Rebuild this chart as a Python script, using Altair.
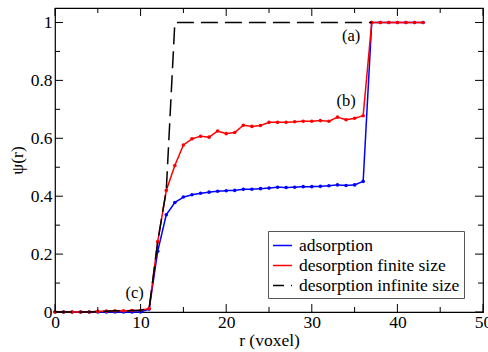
import altair as alt
import pandas as pd

# ---- data ----
r_ads = list(range(0, 44))
psi_ads = [0, 0, 0, 0, 0, 0, 0, 0, 0, 0, 0, 0.01,
           0.21, 0.336, 0.378, 0.397, 0.405, 0.41, 0.414, 0.417, 0.419, 0.42,
           0.424, 0.424, 0.426, 0.428, 0.431, 0.43, 0.431, 0.433, 0.433, 0.434,
           0.436, 0.439, 0.437, 0.439, 0.451,
           1.0, 1.0, 1.0, 1.0, 1.0, 1.0, 1.0]

r_des = list(range(0, 44))
psi_des = [0, 0, 0, 0, 0, 0.002, 0.003, 0.004, 0.004, 0.005, 0.006, 0.012,
           0.243, 0.42, 0.506, 0.577, 0.598, 0.607, 0.604, 0.625, 0.616, 0.62,
           0.645, 0.641, 0.644, 0.655, 0.655, 0.655, 0.657, 0.659, 0.659, 0.661,
           0.659, 0.673, 0.664, 0.669, 0.678,
           1.0, 1.0, 1.0, 1.0, 1.0, 1.0, 1.0]

r_inf = list(range(0, 38))
psi_inf = [0, 0, 0, 0, 0, 0.002, 0.003, 0.004, 0.004, 0.005, 0.006, 0.012,
           0.243, 0.42] + [1.0] * 24

series_names = ["adsorption", "desorption finite size", "desorption infinite size"]
series_colors = ["#0000ff", "#ff0000", "#000000"]

x_major = [0, 10, 20, 30, 40, 50]
x_minor = [5, 15, 25, 35, 45]
y_major = [0, 0.2, 0.4, 0.6, 0.8, 1.0]
y_minor = [0.1, 0.3, 0.5, 0.7, 0.9]

ann_text = ["(a)", "(b)", "(c)"]
ann_r = [34.6, 34.0, 9.3]
ann_psi = [0.952, 0.728, 0.066]

# ---- layout ----
W, H = 428, 304
FONT = "Liberation Serif"
FS = 17.5

df = pd.concat([
    pd.DataFrame({"r": r_ads, "psi": psi_ads, "series": series_names[0]}),
    pd.DataFrame({"r": r_des, "psi": psi_des, "series": series_names[1]}),
    pd.DataFrame({"r": r_inf, "psi": psi_inf, "series": series_names[2]}),
], ignore_index=True)

xscale = alt.Scale(domain=[0, 50], nice=False, zero=False)
yscale = alt.Scale(domain=[0, 1.05], nice=False, zero=False)
cscale = alt.Scale(domain=series_names, range=series_colors)
dscale = alt.Scale(domain=series_names, range=[[1, 0], [1, 0], [17, 7]])

axis_text = dict(labelFont=FONT, titleFont=FONT, labelFontSize=FS, titleFontSize=FS,
                 labelColor="black", titleColor="black", titleFontWeight="normal")
xaxis = alt.Axis(values=x_major, tickSize=0, labelPadding=1, domain=False, grid=False,
                 labelFlush=False, title="r (voxel)", titlePadding=1, **axis_text)
yaxis = alt.Axis(values=y_major, format="~g", tickSize=0, labelPadding=3, domain=False,
                 grid=False, title="ψ(r)", titlePadding=4, **axis_text)

legend = alt.Legend(title=None, orient="none", legendX=213, legendY=223,
                    symbolType="stroke", symbolSize=361, symbolStrokeWidth=1.5,
                    symbolDashOffset=6, labelLimit=400,
                    labelFont=FONT, labelFontSize=FS, labelColor="black",
                    labelOffset=6, padding=4, rowPadding=1,
                    strokeColor="#555555", fillColor="white")


def X(field):
    return alt.X(field, scale=xscale, axis=xaxis)


def Y(field):
    return alt.Y(field, scale=yscale, axis=yaxis)


base = alt.Chart(df)


def series_layer(idx, with_points):
    name = series_names[idx]
    sub = base.transform_filter(alt.datum.series == name)
    line = sub.mark_line(strokeWidth=1.5).encode(
        x=X("r:Q"), y=Y("psi:Q"),
        color=alt.Color("series:N", scale=cscale, legend=legend),
        strokeDash=alt.StrokeDash("series:N", scale=dscale, legend=legend),
    )
    layers = [line]
    if with_points:
        pts = sub.mark_circle(size=13, opacity=1, color=series_colors[idx]).encode(
            x=X("r:Q"), y=Y("psi:Q"))
        layers.append(pts)
    return layers


layers = []
layers += series_layer(0, True)
layers += series_layer(1, True)
layers += series_layer(2, False)


def xticks(vals, length, top):
    d = pd.DataFrame({"r": vals})
    y0 = 0 if top else H
    y1 = length if top else H - length
    return alt.Chart(d).mark_rule(color="black", strokeWidth=1).encode(
        x=X("r:Q"), y=alt.value(y0), y2=alt.value(y1))


def yticks(vals, length, right):
    d = pd.DataFrame({"psi": vals})
    x0 = W if right else 0
    x1 = W - length if right else length
    return alt.Chart(d).mark_rule(color="black", strokeWidth=1).encode(
        y=Y("psi:Q"), x=alt.value(x0), x2=alt.value(x1))


for top in (False, True):
    layers.append(xticks(x_major, 8, top))
    layers.append(xticks(x_minor, 5, top))
for right in (False, True):
    layers.append(yticks(y_major, 8, right))
    layers.append(yticks(y_minor, 5, right))

ann_df = pd.DataFrame({"t": ann_text, "r": ann_r, "psi": ann_psi})
ann = alt.Chart(ann_df).mark_text(font=FONT, fontSize=16.5, color="black",
                                  align="center", baseline="middle").encode(
    x=X("r:Q"), y=Y("psi:Q"), text="t:N")
layers.append(ann)

chart = alt.layer(*layers).properties(
    width=W, height=H,
    autosize=alt.AutoSizeParams(type="none"),
    padding={"left": 55, "top": 8, "right": 5, "bottom": 40},
    background="white",
).configure(
    font=FONT
).configure_view(
    stroke="black", strokeWidth=1.2
)

chart.save("out.html", embed_options={"renderer": "svg", "actions": False})
